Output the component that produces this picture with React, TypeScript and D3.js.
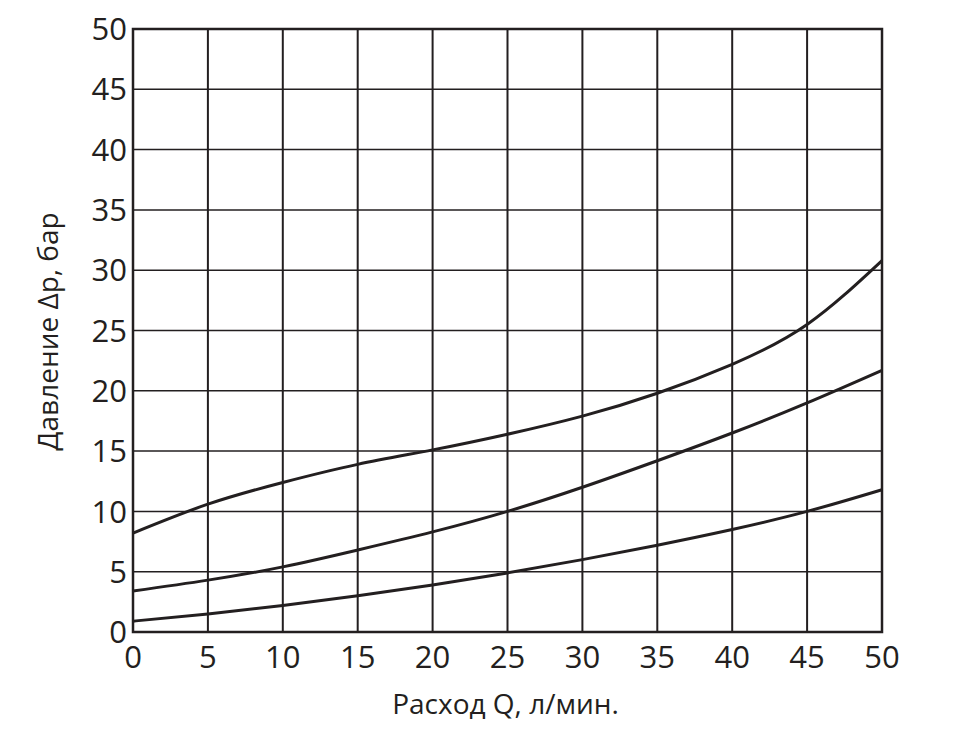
import * as d3 from "d3";

// flow Q (l/min) and pressure drop curves
const flow = [0, 5, 10, 15, 20, 25, 30, 35, 40, 45, 50];
const upper = [8.2, 10.6, 12.4, 13.9, 15.1, 16.4, 17.9, 19.8, 22.2, 25.5, 30.8];
const middle = [3.4, 4.3, 5.4, 6.8, 8.3, 10.0, 12.0, 14.2, 16.5, 19.0, 21.7];
const lower = [0.9, 1.5, 2.2, 3.0, 3.9, 4.9, 6.0, 7.2, 8.5, 10.0, 11.8];
const xTicks = [0, 5, 10, 15, 20, 25, 30, 35, 40, 45, 50];
const yTicks = [0, 5, 10, 15, 20, 25, 30, 35, 40, 45, 50];
const xTitle = "Расход Q, л/мин.";
const yTitle = "Давление Δp, бар";

const ink = "#231f20";
const font = "'Open Sans', sans-serif";

export default function App() {
  const margin = { top: 29, right: 78, bottom: 105, left: 133 };
  const W = 960, H = 737;
  const w = W - margin.left - margin.right;
  const h = H - margin.top - margin.bottom;

  const x = d3.scaleLinear().domain([0, 50]).range([0, w]);
  const y = d3.scaleLinear().domain([0, 50]).range([h, 0]);

  const line = d3.line<number>()
    .x((_, i) => x(flow[i]))
    .y((d) => y(d))
    .curve(d3.curveNatural);

  return (
    <svg width={W} height={H} style={{ position: "absolute", left: 0, top: 0 }}>
      <g transform={`translate(${margin.left},${margin.top})`}>
        {yTicks.map((t) => (
          <line key={"h" + t} x1={0} x2={w} y1={y(t)} y2={y(t)} stroke={ink} strokeWidth={1.5} />
        ))}
        {xTicks.map((t) => (
          <line key={"v" + t} x1={x(t)} x2={x(t)} y1={0} y2={h} stroke={ink} strokeWidth={2} />
        ))}
        <rect x={0} y={0} width={w} height={h} fill="none" stroke={ink} strokeWidth={2.5} />
        {[upper, middle, lower].map((s, i) => (
          <path key={i} d={line(s) || ""} fill="none" stroke={ink} strokeWidth={3} />
        ))}
        {yTicks.map((t) => (
          <text key={"yl" + t} x={-6} y={y(t)} dy="0.36em" textAnchor="end"
            fontFamily={font} fontSize={31} fill={ink}>{t}</text>
        ))}
        {xTicks.map((t) => (
          <text key={"xl" + t} x={x(t)} y={h + 25} dy="0.36em" textAnchor="middle"
            fontFamily={font} fontSize={31} fill={ink}>{t}</text>
        ))}
        <text x={w / 2 - 2} y={h + 72} dy="0.36em" textAnchor="middle"
          fontFamily={font} fontSize={28} fill={ink}>{xTitle}</text>
        <text transform={`translate(${-85},${h / 2 + 1}) rotate(-90)`} textAnchor="middle" dy="0.36em"
          fontFamily={font} fontSize={28} fill={ink}>{yTitle}</text>
      </g>
    </svg>
  );
}
